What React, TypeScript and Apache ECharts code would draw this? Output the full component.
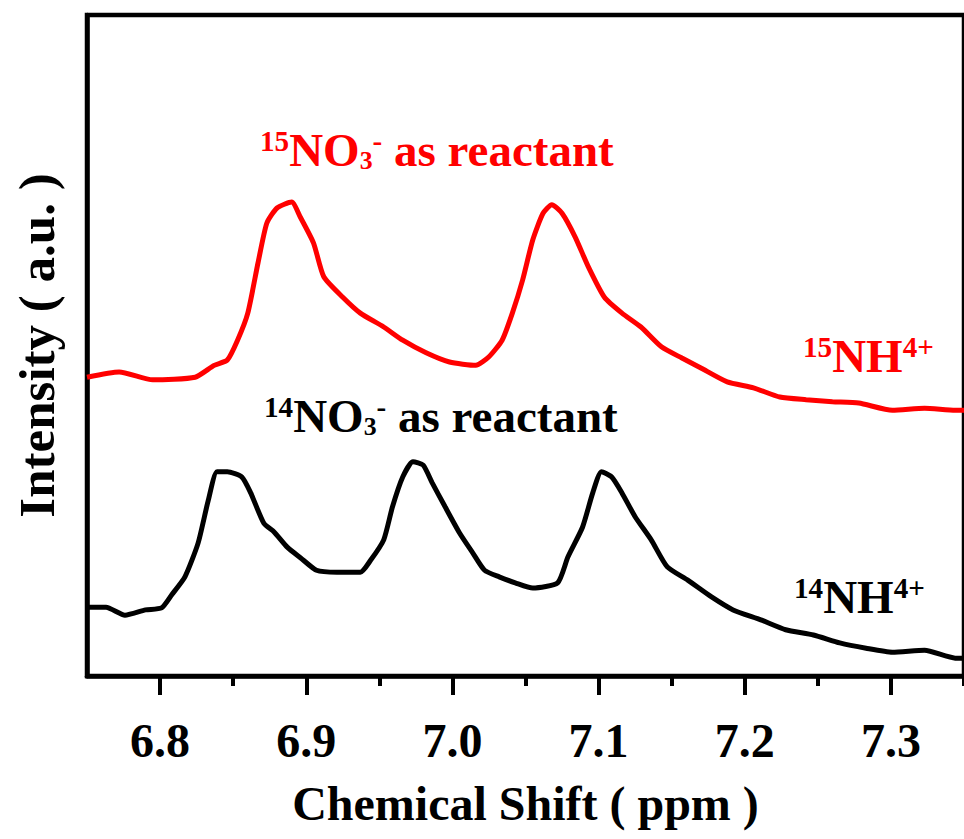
import React, { useEffect, useRef } from "react";
import * as echarts from "echarts";

// 15NO3- spectrum (red)
const shiftRed = [6.750, 6.772, 6.795, 6.824, 6.837, 6.846, 6.853, 6.860, 6.867, 6.873, 6.880, 6.890, 6.896, 6.905, 6.912, 6.925, 6.937, 6.953, 6.966, 6.982, 6.998, 7.016, 7.025, 7.034, 7.041, 7.048, 7.055, 7.062, 7.068, 7.075, 7.084, 7.093, 7.104, 7.116, 7.129, 7.143, 7.157, 7.170, 7.188, 7.206, 7.224, 7.242, 7.260, 7.278, 7.301, 7.323, 7.344, 7.350];
const intensityRed = [45.2, 46.0, 44.8, 45.2, 47.0, 47.8, 50.8, 54.9, 62.5, 68.5, 70.8, 71.7, 69.4, 65.5, 60.4, 57.3, 54.9, 52.8, 50.8, 48.9, 47.5, 47.0, 48.3, 50.8, 54.9, 59.9, 66.0, 70.0, 71.3, 70.0, 66.4, 61.9, 57.3, 54.9, 52.8, 49.8, 48.1, 46.6, 44.5, 43.6, 42.2, 41.8, 41.5, 41.3, 40.2, 40.5, 40.2, 40.2];

// 14NO3- spectrum (black)
const shiftBlack = [6.750, 6.763, 6.776, 6.790, 6.801, 6.808, 6.817, 6.826, 6.833, 6.839, 6.846, 6.856, 6.862, 6.871, 6.878, 6.887, 6.896, 6.907, 6.921, 6.937, 6.944, 6.953, 6.959, 6.966, 6.973, 6.980, 6.986, 6.995, 7.005, 7.014, 7.022, 7.032, 7.043, 7.055, 7.072, 7.079, 7.089, 7.096, 7.102, 7.109, 7.116, 7.125, 7.136, 7.147, 7.161, 7.177, 7.192, 7.211, 7.228, 7.247, 7.265, 7.283, 7.301, 7.323, 7.344, 7.350];
const intensityBlack = [10.4, 10.4, 9.2, 10.0, 10.3, 12.3, 15.0, 20.1, 26.6, 30.9, 30.9, 30.1, 27.7, 23.1, 21.8, 19.5, 17.9, 16.0, 15.7, 15.7, 17.5, 20.6, 25.6, 30.1, 32.4, 31.9, 29.3, 25.6, 21.6, 18.6, 16.0, 15.0, 14.1, 13.3, 14.1, 18.0, 22.5, 27.7, 30.9, 30.1, 27.7, 24.1, 20.6, 16.5, 14.5, 12.0, 10.0, 8.5, 7.0, 6.2, 5.0, 4.2, 3.6, 3.9, 2.7, 2.7];

const majorTicks = [6.8, 6.9, 7.0, 7.1, 7.2, 7.3];
const minorTicks = [6.85, 6.95, 7.05, 7.15, 7.25, 7.35];

const FONT = '"Liberation Serif", "Times New Roman", serif';

export default function App() {
  const ref = useRef<HTMLDivElement>(null);
  useEffect(() => {
    if (!ref.current) return;
    const chart = echarts.init(ref.current, null, { renderer: "svg" });
    const rich = (color: string, big: number) => ({
      sup: { fontSize: big * 0.62, fontWeight: "bold", fontFamily: FONT, color, verticalAlign: "top", lineHeight: big },
      sub: { fontSize: big * 0.55, fontWeight: "bold", fontFamily: FONT, color, verticalAlign: "bottom", lineHeight: big * 0.9 },
      m: { fontSize: big, fontWeight: "bold", fontFamily: FONT, color, lineHeight: big },
    });
    chart.setOption({
      animation: false,
      backgroundColor: "#fff",
      grid: { left: 87, top: 15, width: 885.6, height: 661, show: true, borderColor: "#000", borderWidth: 4.5 },
      xAxis: [
        {
          type: "value",
          min: 6.75,
          max: 7.35,
          name: "Chemical Shift ( ppm )",
          nameLocation: "middle",
          nameGap: 103,
          nameTextStyle: { fontSize: 48, fontWeight: "bold", fontFamily: FONT, color: "#000" },
          axisLine: { lineStyle: { color: "#000", width: 4.5 } },
          axisTick: { show: true, customValues: majorTicks, length: 19, lineStyle: { width: 4, color: "#000" } },
          axisLabel: {
            customValues: majorTicks,
            margin: 40,
            fontSize: 48,
            fontWeight: "bold",
            fontFamily: FONT,
            color: "#000",
            formatter: (v: number) => v.toFixed(1),
          },
          splitLine: { show: false },
        },
        {
          type: "value",
          min: 6.75,
          max: 7.35,
          position: "bottom",
          axisLine: { show: false },
          axisTick: { show: true, customValues: minorTicks, length: 10, lineStyle: { width: 4, color: "#000" } },
          axisLabel: { show: false },
          splitLine: { show: false },
        },
      ],
      yAxis: {
        type: "value",
        min: 0,
        max: 100,
        name: "Intensity ( a.u. )",
        nameLocation: "middle",
        nameGap: 25,
        nameTextStyle: { fontSize: 51, fontWeight: "bold", fontFamily: FONT, color: "#000" },
        axisLine: { show: true, lineStyle: { color: "#000", width: 4.5 } },
        axisTick: { show: false },
        axisLabel: { show: false },
        splitLine: { show: false },
      },
      graphic: [
        {
          type: "text",
          x: 260,
          y: 126,
          style: { text: "{sup|15}{m|NO}{sub|3}{sup|-}{m| as reactant}", rich: rich("#ff0000", 47), fill: "#ff0000" },
        },
        {
          type: "text",
          x: 264,
          y: 392,
          style: { text: "{sup|14}{m|NO}{sub|3}{sup|-}{m| as reactant}", rich: rich("#000", 47), fill: "#000" },
        },
        {
          type: "text",
          x: 803,
          y: 332,
          style: { text: "{sup|15}{m|NH}{sup|4+}", rich: rich("#ff0000", 47), fill: "#ff0000" },
        },
        {
          type: "text",
          x: 794,
          y: 573,
          style: { text: "{sup|14}{m|NH}{sup|4+}", rich: rich("#000", 47), fill: "#000" },
        },
      ],
      series: [
        {
          type: "line",
          xAxisIndex: 0,
          data: shiftRed.map((x, i) => [x, intensityRed[i]]),
          showSymbol: false,
          smooth: 0.2,
          lineStyle: { color: "#ff0000", width: 5 },
        },
        {
          type: "line",
          xAxisIndex: 0,
          data: shiftBlack.map((x, i) => [x, intensityBlack[i]]),
          showSymbol: false,
          smooth: 0.2,
          lineStyle: { color: "#000", width: 5 },
        },
      ],
    });
    return () => chart.dispose();
  }, []);
  return <div ref={ref} style={{ position: "absolute", left: 0, top: 0, width: 964, height: 839 }} />;
}
